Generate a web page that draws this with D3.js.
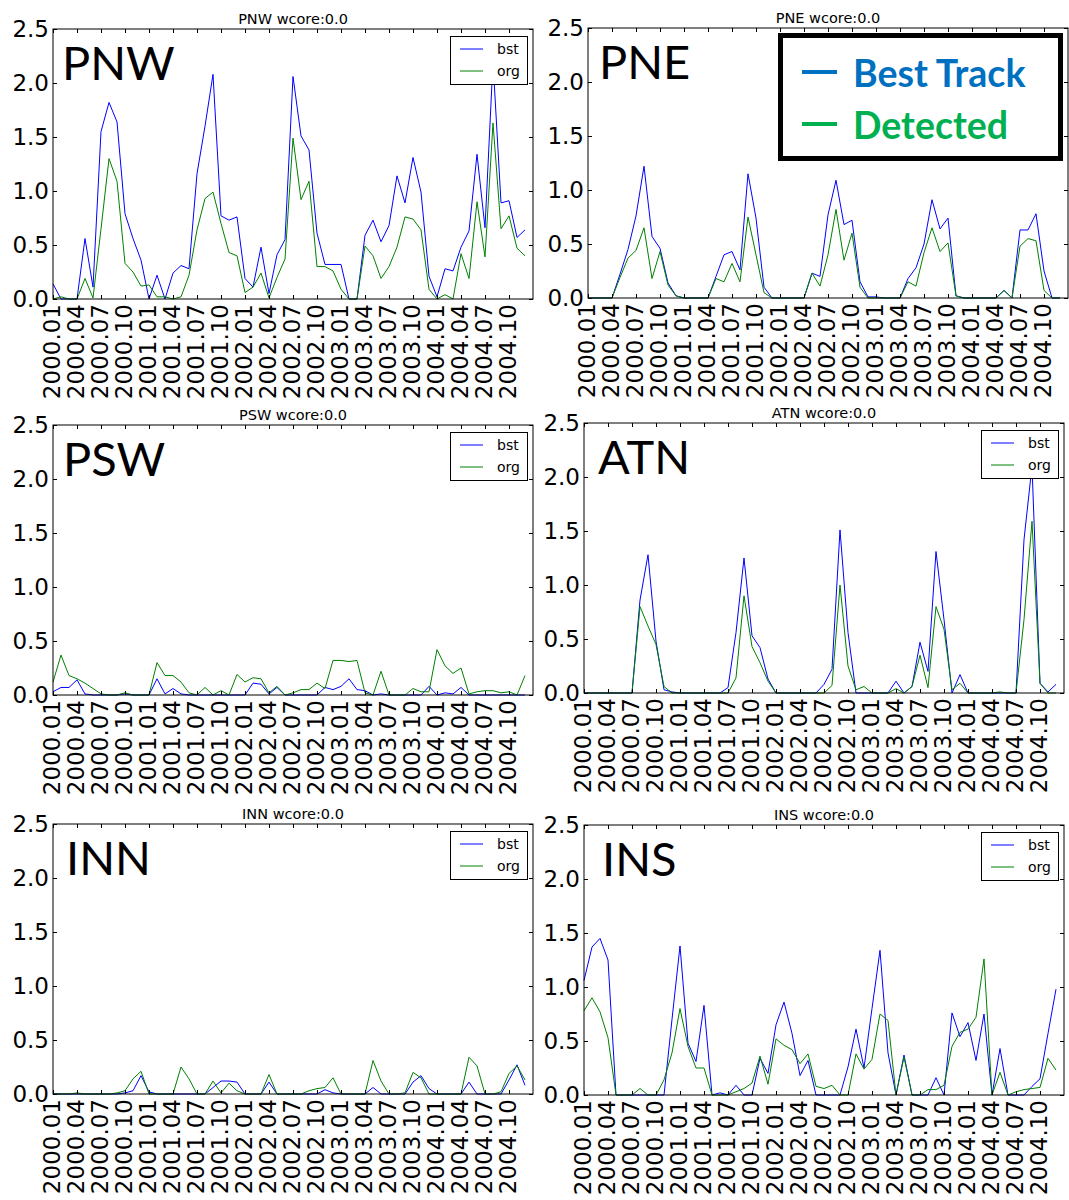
<!DOCTYPE html>
<html>
<head>
<meta charset="utf-8">
<script src="https://cdn.jsdelivr.net/npm/d3@7"></script>
<style>
  body { margin: 0; background: #fff; }
  svg { display: block; }
</style>
</head>
<body>
<div class="canvas"></div>
<script>
// monthly values, 2000.01 .. 2004.12 (60 months)
const pnwBst = [0.14,0,0,0,0.56,0.11,1.55,1.82,1.64,0.79,0.56,0.36, 0,0.22,0,0.24,0.31,0.28,1.16,1.6,2.08,0.77,0.73,0.76, 0.19,0.11,0.48,0.05,0.41,0.55,2.06,1.51,1.38,0.61,0.32,0.32, 0.32,0,0,0.59,0.73,0.53,0.68,1.14,0.89,1.31,0.99,0.21, 0.02,0.28,0.26,0.48,0.63,1.34,0.66,2.2,0.89,0.91,0.57,0.64];
const pnwOrg = [0,0.02,0,0,0.19,0.01,0.65,1.3,1.09,0.33,0.25,0.12, 0.13,0.02,0.02,0,0.02,0.22,0.64,0.93,0.99,0.7,0.43,0.4, 0.06,0.11,0.24,0.01,0.2,0.37,1.49,0.92,1.09,0.3,0.3,0.26, 0.09,0,0,0.49,0.4,0.19,0.3,0.48,0.76,0.74,0.64,0.09, 0,0.04,0,0.42,0.19,0.9,0.39,1.63,0.65,0.77,0.47,0.4];
const pneBst = [0,0,0,0,0.22,0.45,0.76,1.22,0.57,0.46,0.14,0.02, 0,0,0,0,0.2,0.4,0.43,0.26,1.15,0.74,0.1,0, 0,0,0,0,0.23,0.2,0.77,1.09,0.68,0.72,0.15,0.01, 0.01,0,0,0,0.18,0.28,0.5,0.91,0.64,0.74,0.02,0, 0,0,0,0,0.07,0,0.63,0.63,0.78,0.25,0,0];
const pneOrg = [0,0,0,0,0.19,0.37,0.44,0.65,0.18,0.43,0.12,0.02, 0,0,0,0,0.18,0.15,0.32,0.15,0.75,0.4,0.05,0, 0,0,0,0,0.23,0.11,0.4,0.82,0.35,0.6,0.1,0, 0,0,0,0,0.15,0.11,0.42,0.65,0.43,0.51,0.02,0, 0,0,0,0,0.07,0,0.48,0.55,0.53,0.07,0,0];
const pswBst = [0.03,0.07,0.07,0.14,0.01,0,0,0,0,0.01,0,0, 0,0.15,0.01,0.06,0.01,0,0,0,0,0,0,0, 0,0.11,0.1,0.01,0.07,0,0,0,0,0,0.07,0.05, 0.08,0.15,0.05,0.04,0,0.01,0,0,0,0,0,0.08, 0,0.02,0.01,0.07,0,0,0,0,0,0,0,0];
const pswOrg = [0.12,0.37,0.18,0.15,0.11,0.06,0.01,0,0,0.02,0,0, 0,0.3,0.18,0.18,0.12,0.02,0,0.07,0,0.04,0,0.19, 0.12,0.16,0.15,0.02,0.08,0,0.02,0.05,0.05,0.11,0.06,0.32, 0.32,0.31,0.32,0.02,0,0.22,0,0,0,0.06,0.03,0.03, 0.42,0.27,0.2,0.25,0.01,0.03,0.04,0.04,0.02,0.03,0,0.18];
const atnBst = [0,0,0,0,0,0,0,0.86,1.28,0.48,0.03,0.01, 0,0,0,0,0,0,0.05,0.56,1.25,0.53,0.42,0.13, 0,0,0,0,0,0,0.08,0.22,1.51,0.56,0,0, 0,0,0,0.11,0,0.06,0.47,0.2,1.31,0.68,0,0.17, 0,0,0,0,0,0,0,1.42,2.1,0.09,0.01,0.08];
const atnOrg = [0,0,0,0,0,0,0,0.8,0.62,0.45,0.06,0, 0,0,0,0,0,0,0,0.14,0.9,0.43,0.28,0.11, 0,0,0,0,0,0,0,0.07,1.0,0.25,0.03,0.06, 0,0,0,0.04,0,0.06,0.35,0.05,0.8,0.59,0.03,0.09, 0,0,0,0,0.01,0,0,0.68,1.59,0.09,0,0];
const innBst = [0,0,0,0,0,0,0,0,0,0.01,0.03,0.17, 0.02,0,0,0,0,0,0,0,0.06,0.12,0.12,0.11, 0,0,0,0.11,0,0,0,0,0,0,0.04,0.01, 0,0,0,0,0.06,0,0,0,0,0.11,0.17,0.05, 0,0,0,0,0.11,0,0,0,0,0.13,0.27,0.08];
const innOrg = [0,0,0,0.01,0,0,0,0,0.01,0.03,0.14,0.21, 0,0,0,0,0.25,0.14,0,0,0.12,0.01,0.1,0.03, 0,0,0,0.18,0,0,0,0,0.03,0.05,0.06,0.15, 0,0,0,0,0.31,0.12,0,0,0.01,0.2,0.15,0, 0,0,0,0,0.34,0.26,0,0,0.02,0.19,0.26,0.13];
const insBst = [1.06,1.37,1.45,1.25,0,0,0,0,0,0,0,0.7, 1.38,0.48,0.31,0.83,0,0.02,0,0.09,0,0,0.34,0.2, 0.65,0.86,0.57,0.18,0.32,0,0,0,0,0.26,0.61,0.25, 0.8,1.34,0.39,0,0.37,0,0,0,0.16,0,0.76,0.54, 0.67,0.32,0.75,0,0.43,0,0,0,0.08,0.15,0.57,0.98];
const insOrg = [0.78,0.9,0.77,0.53,0,0,0,0.06,0,0,0.14,0.39, 0.8,0.45,0.25,0.25,0,0,0,0.03,0.06,0.11,0.36,0.1, 0.52,0.46,0.42,0.29,0.38,0.08,0.06,0.09,0,0,0.38,0.24, 0.33,0.75,0.69,0,0.35,0,0,0.05,0.05,0.09,0.45,0.58, 0.61,0.72,1.26,0,0.21,0,0.03,0.05,0.06,0.07,0.34,0.23];

const tickLabels = ["2000.01","2000.04","2000.07","2000.10","2001.01","2001.04","2001.07","2001.10",
  "2002.01","2002.04","2002.07","2002.10","2003.01","2003.04","2003.07","2003.10",
  "2004.01","2004.04","2004.07","2004.10"];
const yTicks = [0, 0.5, 1.0, 1.5, 2.0, 2.5];
const seriesNames = ["bst", "org"];
const seriesColors = ["#0000ff", "#008000"];

const w = 1069, h = 1200;
const plotW = 480, plotH = 270;
const nMonths = 60;
const mplFont = "'DejaVu Sans', sans-serif";
const bigFont = "Lato, 'Open Sans', sans-serif";

const panels = [
  { name: "PNW", left: 53, top: 29, bst: pnwBst, org: pnwOrg, legend: true, labX: 9 },
  { name: "PNE", left: 588, top: 28, bst: pneBst, org: pneOrg, legend: false, labX: 11 },
  { name: "PSW", left: 53, top: 425, bst: pswBst, org: pswOrg, legend: true, labX: 10 },
  { name: "ATN", left: 584, top: 423, bst: atnBst, org: atnOrg, legend: true, labX: 14 },
  { name: "INN", left: 53, top: 824, bst: innBst, org: innOrg, legend: true, labX: 13 },
  { name: "INS", left: 584, top: 825, bst: insBst, org: insOrg, legend: true, labX: 18 }
];

const svg = d3.select(".canvas").append("svg").attr("width", w).attr("height", h);
svg.append("rect").attr("width", w).attr("height", h).attr("fill", "#fff");

const x = d3.scaleLinear().domain([0, nMonths]).range([0, plotW]);
const y = d3.scaleLinear().domain([0, 2.5]).range([plotH, 0]);
const tickIdx = tickLabels.map((d, i) => i * 3);
const line = d3.line().x((d, i) => x(i)).y(d => y(d));

panels.forEach(p => {
  const g = svg.append("g").attr("transform", `translate(${p.left},${p.top})`);

  // data lines
  [p.bst, p.org].forEach((s, k) => {
    g.append("path").datum(s)
      .attr("d", line)
      .attr("fill", "none")
      .attr("stroke", seriesColors[k])
      .attr("stroke-width", 1);
  });

  // axes, ticks pointing inward
  const xb = g.append("g").attr("transform", `translate(0,${plotH})`)
    .call(d3.axisBottom(x).tickValues(tickIdx).tickFormat((d, i) => tickLabels[i]).tickSize(-4));
  xb.selectAll("text")
    .attr("transform", "rotate(-90)")
    .attr("text-anchor", "end")
    .attr("x", -5).attr("y", 0).attr("dy", "0.27em");
  g.append("g").call(d3.axisTop(x).tickValues(tickIdx).tickFormat("").tickSize(-4));
  g.append("g").call(d3.axisLeft(y).tickValues(yTicks).tickFormat(d3.format(".1f")).tickSize(-4).tickPadding(4));
  g.append("g").attr("transform", `translate(${plotW},0)`)
    .call(d3.axisRight(y).tickValues(yTicks).tickFormat("").tickSize(-4));
  g.selectAll(".domain").remove();
  g.selectAll(".tick text").attr("font-size", 23).attr("font-family", mplFont).attr("fill", "#000");
  g.selectAll(".tick line").attr("stroke", "#000");

  // frame
  g.append("rect").attr("width", plotW).attr("height", plotH)
    .attr("fill", "none").attr("stroke", "#000").attr("stroke-width", 1);

  // title
  g.append("text")
    .attr("x", plotW / 2).attr("y", -5)
    .attr("text-anchor", "middle")
    .attr("font-family", mplFont).attr("font-size", 14.5)
    .text(`${p.name} wcore:0.0`);

  // small legend
  if (p.legend) {
    const lg = g.append("g").attr("transform", `translate(${plotW - 83},7)`);
    lg.append("rect").attr("x", 0.5).attr("y", 0.5).attr("width", 77).attr("height", 48)
      .attr("fill", "#fff").attr("stroke", "#000").attr("stroke-width", 1);
    seriesNames.forEach((n, k) => {
      const ly = 13 + k * 22;
      lg.append("line").attr("x1", 10).attr("x2", 33).attr("y1", ly).attr("y2", ly)
        .attr("stroke", seriesColors[k]).attr("stroke-width", 1);
      lg.append("text").attr("x", 47).attr("y", ly).attr("dy", "0.35em")
        .attr("font-family", mplFont).attr("font-size", 14)
        .text(n);
    });
  }

  // region label
  g.append("text")
    .attr("x", p.labX).attr("y", 51)
    .attr("font-family", bigFont).attr("font-size", 47)
    .attr("fill", "#000")
    .text(p.name);
});

// annotation legend in the PNE panel
const big = svg.append("g");
big.append("rect").attr("x", 780.5).attr("y", 35.5).attr("width", 280).attr("height", 123)
  .attr("fill", "#fff").attr("stroke", "#000").attr("stroke-width", 5);
const bigItems = [
  { text: "Best Track", color: "#0070c0", y: 72 },
  { text: "Detected", color: "#00b050", y: 124 }
];
bigItems.forEach(it => {
  big.append("line").attr("x1", 802).attr("x2", 837).attr("y1", it.y).attr("y2", it.y)
    .attr("stroke", it.color).attr("stroke-width", 4);
  big.append("text").attr("x", 853).attr("y", it.y + 15)
    .attr("font-family", bigFont).attr("font-weight", "bold").attr("font-size", 37.5)
    .attr("fill", it.color)
    .text(it.text);
});
</script>
</body>
</html>
